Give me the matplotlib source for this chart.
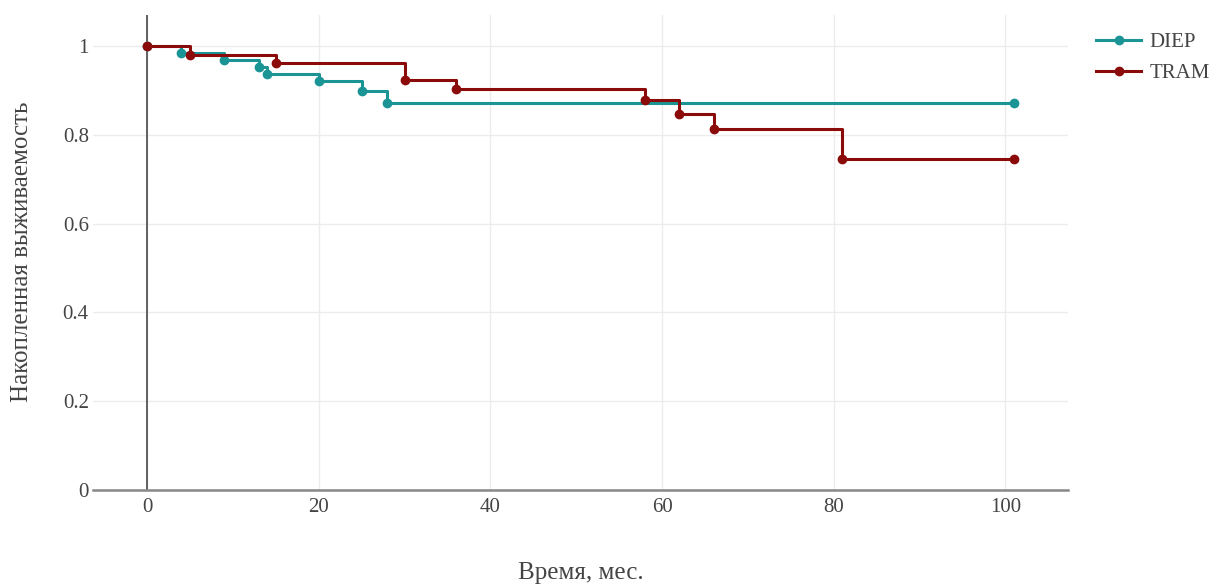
import matplotlib
matplotlib.use("Agg")
import matplotlib.pyplot as plt

# ---- data ----
diep_t = [0, 4, 9, 13, 14, 20, 25, 28, 101]
diep_s = [1.0, 0.985, 0.968, 0.953, 0.937, 0.921, 0.899, 0.871, 0.871]

tram_t = [0, 5, 15, 30, 36, 58, 62, 66, 81, 101]
tram_s = [1.0, 0.980, 0.961, 0.923, 0.903, 0.878, 0.848, 0.813, 0.745, 0.745]

x_ticks = [0, 20, 40, 60, 80, 100]
y_ticks = [0, 0.2, 0.4, 0.6, 0.8, 1]
y_labels = ["0", "0.2", "0.4", "0.6", "0.8", "1"]

DIEP_COL = "#1a9494"
TRAM_COL = "#8b0a0a"

plt.rcParams["font.family"] = ["Liberation Serif", "DejaVu Serif"]

fig = plt.figure(figsize=(12.09, 5.85), dpi=100)
ax = fig.add_axes([93 / 1209, 1 - 490 / 585, (1068 - 93) / 1209, (490 - 15) / 585])

ax.set_xlim(-6.3, 107.3)
ax.set_ylim(0, 1.07)

# grid
ax.set_xticks(x_ticks)
ax.set_yticks(y_ticks)
ax.set_yticklabels(y_labels)
ax.grid(True, color="#ececec", linewidth=1.0)
ax.set_axisbelow(True)

# zero line at x=0
ax.axvline(0, color="#555555", linewidth=1.3, zorder=1)

ax.plot(diep_t, diep_s, drawstyle="steps-post", color=DIEP_COL, linewidth=2.2,
        marker="o", markersize=6, label="DIEP", zorder=3)
ax.plot(tram_t, tram_s, drawstyle="steps-post", color=TRAM_COL, linewidth=2.2,
        marker="o", markersize=6, label="TRAM", zorder=4)

# spines
for s in ["top", "right", "left"]:
    ax.spines[s].set_visible(False)
ax.spines["bottom"].set_color("#888888")
ax.spines["bottom"].set_linewidth(1.8)

ax.tick_params(axis="both", length=0, labelsize=15, colors="#444444")
ax.tick_params(axis="x", pad=6)
ax.tick_params(axis="y", pad=3)

fig.text(581 / 1209, 1 - 573 / 585, "Время, мес.", ha="center", va="center",
         fontsize=18, color="#444444")
fig.text(22 / 1209, 1 - 252 / 585, "Накопленная выживаемость", ha="center",
         va="center", rotation=90, fontsize=18, color="#444444")

leg = ax.legend(loc="upper left", bbox_to_anchor=(1.010, 1.002), frameon=False,
                fontsize=15, handlelength=2.15, handletextpad=0.4, labelspacing=0.55)
for t in leg.get_texts():
    t.set_color("#444444")

fig.savefig("out.png", dpi=100)
